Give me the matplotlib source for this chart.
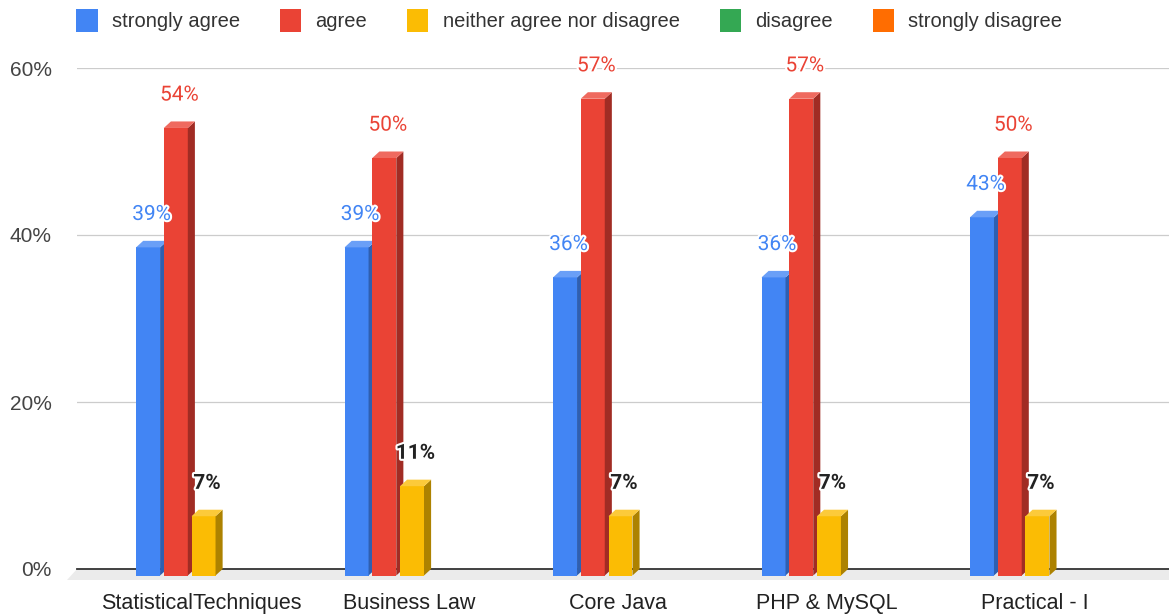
import numpy as np
import matplotlib.pyplot as plt
from matplotlib.patches import Polygon, Patch
import matplotlib.patheffects as pe

# --- data ---
categories = ["StatisticalTechniques", "Business Law", "Core Java", "PHP & MySQL", "Practical - I"]
series_names = ["strongly agree", "agree", "neither agree nor disagree", "disagree", "strongly disagree"]
strongly_agree = [39.3, 39.3, 35.7, 35.7, 42.9]
agree = [53.6, 50.0, 57.1, 57.1, 50.0]
neither = [7.1, 10.7, 7.1, 7.1, 7.1]
disagree = [0, 0, 0, 0, 0]
strongly_disagree = [0, 0, 0, 0, 0]
yticks = [0, 20, 40, 60]

# --- style ---
front = ["#4285F4", "#EA4335", "#FBBC04", "#34A853", "#FF6D01"]
side = ["#2f5fb0", "#a12c24", "#ad8200", "#23743a", "#b04b00"]
top = ["#6a9ff7", "#ef6a5f", "#fcca3a", "#5cb978", "#ff8a34"]
label_col = ["#4285F4", "#EA4335", "#222222", "#222222", "#222222"]
label_bold = [False, False, True, True, True]
offsets = [-0.22, -0.087, 0.046, 0.179, 0.312]
w = 0.115
dx, dy = 0.034, 0.78   # 3d depth in data units (~7px)

fig = plt.figure(figsize=(11.69, 6.15), dpi=100)
ax = fig.add_axes([77/1169, 46/615, 1092/1169, 501/615])
ax.set_xlim(-0.595, 4.643)
ax.set_ylim(0, 60)

for s in ax.spines.values():
    s.set_visible(False)
ax.set_yticks(yticks)
ax.set_yticklabels([f"{t}%" for t in yticks], fontsize=15, color="#444444",
                   family="Liberation Sans")
ax.tick_params(axis="y", length=0, pad=18)
ax.set_xticks(range(len(categories)))
ax.set_xticklabels(categories, fontsize=15.5, color="#222222", family="Liberation Sans")
ax.tick_params(axis="x", length=0, pad=17)
for t in yticks[1:]:
    ax.axhline(t, color="#cccccc", lw=0.9, zorder=0)

# floor
xl0, xl1 = ax.get_xlim()
ax.add_patch(Polygon([(xl0, 0), (xl1, 0), (xl1, -1.32), (xl0 - 0.05, -1.32)],
                     closed=True, fc="#ebebeb", ec="none", clip_on=False, zorder=1))
ax.plot([xl0, xl1], [0, 0], color="#333333", lw=1.3, zorder=1.5, clip_on=False)

data = [strongly_agree, agree, neither, disagree, strongly_disagree]
x = np.arange(len(categories))
for k, vals in enumerate(data):
    for i, v in enumerate(vals):
        if v == 0:
            continue
        c = x[i] + offsets[k]
        xl, xr = c - w/2 - dx, c + w/2 - dx
        ax.bar(c - dx, v, width=w, bottom=-dy, color=front[k], zorder=3, clip_on=False)
        ax.add_patch(Polygon([(xr, -dy), (xr + dx, 0), (xr + dx, v), (xr, v - dy)],
                             closed=True, fc=side[k], ec="none", zorder=3, clip_on=False))
        ax.add_patch(Polygon([(xl, v - dy), (xl + dx, v), (xr + dx, v), (xr, v - dy)],
                             closed=True, fc=top[k], ec="none", zorder=3, clip_on=False))
        ax.annotate(f"{round(v)}%", (c - dx/2, v), xytext=(0, 19), textcoords="offset points",
                    ha="center", va="center", fontsize=15, family="Roboto",
                    color=label_col[k], fontweight="bold" if label_bold[k] else "normal",
                    zorder=5, annotation_clip=False,
                    path_effects=[pe.withStroke(linewidth=3, foreground="white")])

handles = [Patch(facecolor=front[k], edgecolor="none") for k in range(5)]
fig.legend(handles, series_names, loc="center", bbox_to_anchor=(0.487, 0.967), ncol=5,
           frameon=False, prop={"family": "Liberation Sans", "size": 14.5},
           handlelength=1.05, handleheight=1.35, handletextpad=0.7, columnspacing=2.0,
           labelcolor="#333333")

fig.savefig("out.png", dpi=100)
